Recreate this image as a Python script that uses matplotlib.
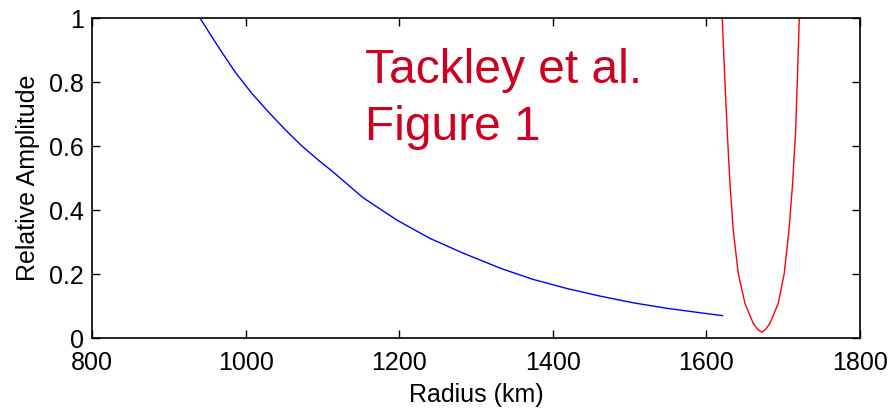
import numpy as np
import matplotlib
matplotlib.use("Agg")
import matplotlib.pyplot as plt

plt.rcParams['font.family'] = ['Liberation Sans', 'DejaVu Sans']

# blue curve: relative amplitude vs radius
blue_r = [940.6, 964.5, 986.2, 1008, 1029.6, 1051.3, 1073, 1094.7, 1112,
          1153, 1196.7, 1240, 1283.5, 1333, 1374.6, 1418, 1461.5, 1504.8,
          1548.3, 1591.7, 1621]
blue_amp = [1.0, 0.910, 0.832, 0.765, 0.707, 0.652, 0.601, 0.556, 0.523,
            0.4385, 0.369, 0.3115, 0.265, 0.217, 0.183, 0.155, 0.131, 0.110,
            0.093, 0.079, 0.070]

# red curve (U shape near the surface)
red_r = [1620.7, 1624.2, 1627.2, 1630.7, 1635, 1641.5, 1650.3, 1661, 1666.8,
         1672, 1677.2, 1682.8, 1693.6, 1701.4, 1707.6, 1712.3, 1716.2,
         1718.4, 1721]
red_amp = [1.0, 0.801, 0.645, 0.483, 0.3375, 0.202, 0.108, 0.046, 0.027,
           0.018, 0.027, 0.046, 0.108, 0.202, 0.3375, 0.483, 0.645,
           0.801, 1.0]

fig = plt.figure(figsize=(8.93, 4.11), dpi=100)
ax = fig.add_axes([0.103, 0.1776, 0.86, 0.7784])

ax.plot(blue_r, blue_amp, color='blue', lw=1.0)
ax.plot(red_r, red_amp, color='red', lw=1.0)

ax.set_xlim(800, 1800)
ax.set_ylim(0, 1)
ax.set_xticks([800, 1000, 1200, 1400, 1600, 1800])
ax.set_yticks([0, 0.2, 0.4, 0.6, 0.8, 1])
ax.set_yticklabels(['0', '0.2', '0.4', '0.6', '0.8', '1'])
ax.tick_params(direction='in', top=True, right=True, length=6, width=1,
               labelsize=18)
ax.tick_params(axis='x', pad=9)
ax.tick_params(axis='y', pad=6)
for s in ax.spines.values():
    s.set_linewidth(1.2)

ax.set_xlabel('Radius (km)', fontsize=18, labelpad=6)
ax.set_ylabel('Relative Amplitude', fontsize=18, labelpad=6)

red_txt = '#cc0020'
ax.text(0.355, 0.797, 'Tackley et al.', transform=ax.transAxes,
        color=red_txt, fontsize=34.5, va='baseline', ha='left')
ax.text(0.355, 0.619, 'Figure 1', transform=ax.transAxes,
        color=red_txt, fontsize=34.5, va='baseline', ha='left')

fig.savefig('out.png', dpi=100)
